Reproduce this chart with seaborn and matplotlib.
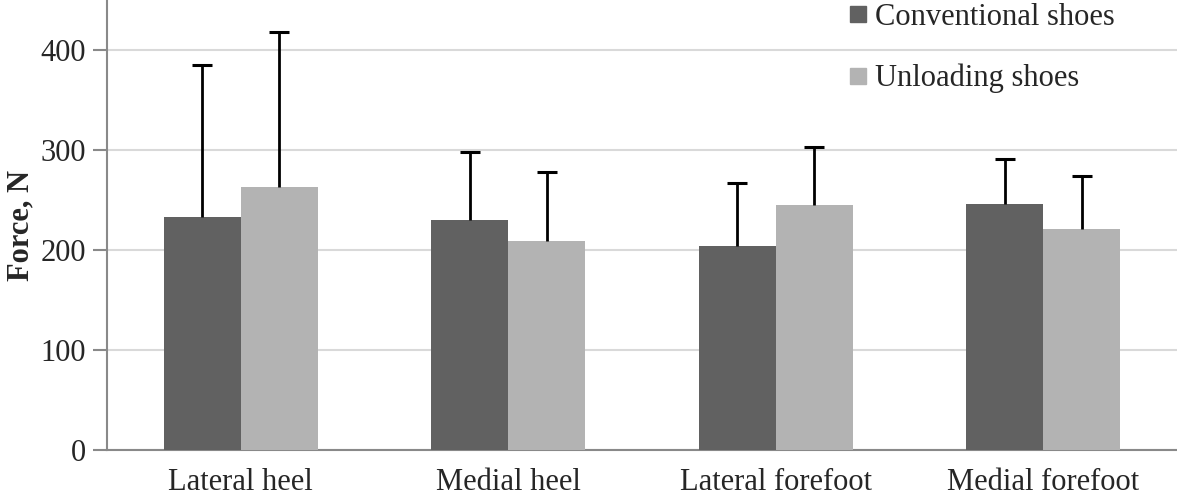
import matplotlib
matplotlib.use("Agg")
import matplotlib.pyplot as plt
from matplotlib.lines import Line2D
import seaborn as sns
import pandas as pd
import numpy as np

categories = ["Lateral heel", "Medial heel", "Lateral forefoot", "Medial forefoot"]
series_names = ["Conventional shoes", "Unloading shoes"]
conventional = [233, 230, 204, 246]
unloading = [263, 209, 245, 221]
conventional_sd = [152, 68, 63, 45]
unloading_sd = [155, 69, 58, 53]
y_ticks = [0, 100, 200, 300, 400]
colors = ["#616161", "#b3b3b3"]

sns.set_theme(style="white")
plt.rcParams["font.family"] = ["Liberation Serif", "DejaVu Serif"]

df = pd.DataFrame({
    "Category": categories * 2,
    "Series": [series_names[0]] * 4 + [series_names[1]] * 4,
    "Force": conventional + unloading,
})

fig = plt.figure(figsize=(11.77, 4.96), dpi=100)
ax = fig.add_axes([0.0909, 0.0927, 0.9091, 0.9073])

sns.barplot(data=df, x="Category", y="Force", hue="Series", order=categories,
            hue_order=series_names, palette=colors, width=0.575, errorbar=None,
            saturation=1, ax=ax, legend=False, zorder=3, linewidth=0)

sds = [conventional_sd, unloading_sd]
vals = [conventional, unloading]
for cont, sd, v in zip(ax.containers, sds, vals):
    xs = [p.get_x() + p.get_width() / 2 for p in cont.patches]
    tops = np.array(v) + np.array(sd)
    ax.vlines(xs, v, tops, colors="black", linewidth=2, zorder=4)
    ax.plot(xs, tops, linestyle="none", marker="_", markersize=14,
            markeredgewidth=2.2, color="black", zorder=4)

ax.set_ylim(0, 450)
ax.set_xlim(-0.5, 3.5)
ax.set_yticks(y_ticks)
ax.set_yticklabels([str(t) for t in y_ticks], fontsize=22)
ax.yaxis.grid(True, color="#d9d9d9", linewidth=1.5, zorder=0)
ax.set_axisbelow(True)

ax.set_xticks(range(len(categories)))
ax.set_xticklabels(categories, fontsize=22)
ax.set_xticks(np.arange(-0.5, 4.0, 1.0), minor=True)
ax.tick_params(axis="x", which="major", length=0, pad=13)
ax.tick_params(axis="x", which="minor", length=8, width=1.5, color="#898989", direction="out")
ax.tick_params(axis="y", length=10, width=1.5, color="#898989", direction="out", pad=5, left=True)

for s in ["top", "right"]:
    ax.spines[s].set_visible(False)
for s in ["left", "bottom"]:
    ax.spines[s].set_color("#898989")
    ax.spines[s].set_linewidth(1.5)

ax.set_xlabel("")
ax.set_ylabel("Force, N", fontsize=22, fontweight="bold", labelpad=4)

handles = [Line2D([0], [0], marker="s", linestyle="none", markersize=11,
                  markerfacecolor=c, markeredgecolor=c) for c in colors]
ax.legend(handles, series_names, loc="upper left", bbox_to_anchor=(0.662, 1.055),
          frameon=False, fontsize=22, labelspacing=1.05, handletextpad=0.05,
          handlelength=1.0)

fig.savefig("out.png", dpi=100)
